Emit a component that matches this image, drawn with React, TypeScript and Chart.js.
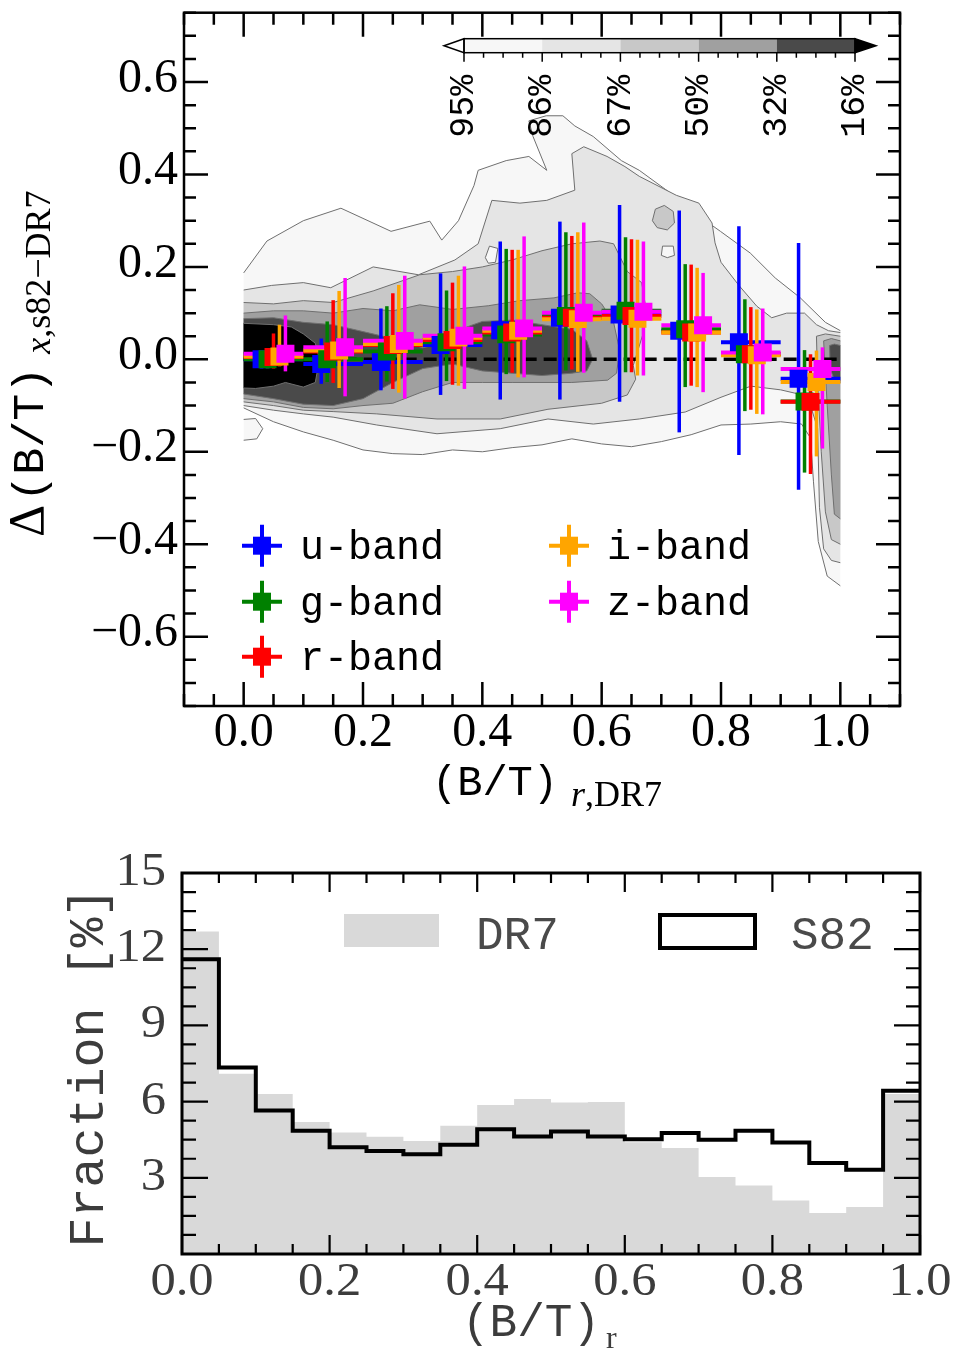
import React, { useEffect, useRef } from 'react';
import { Chart, registerables } from 'chart.js';

Chart.register(...registerables);

const SERIF = "'Liberation Serif', 'DejaVu Serif', serif";
const MONO = "'Liberation Mono', 'DejaVu Sans Mono', monospace";

// ================= TOP PANEL DATA =================
const binCenters = [0.05, 0.15, 0.25, 0.35, 0.45, 0.55, 0.65, 0.75, 0.85, 0.95];
const binHalfWidth = 0.05;
const bandLabels = ['u-band', 'g-band', 'r-band', 'i-band', 'z-band'];
const bandColors = ['#0000ff', '#008000', '#ff0000', '#ffa500', '#ff00ff'];
const bandOffsets = [-0.02, -0.01, 0.0, 0.01, 0.02];

const uMedian = [0.0, -0.01, -0.006, 0.031, 0.063, 0.09, 0.097, 0.062, 0.037, -0.042];
const uLow = [-0.02, -0.053, -0.067, -0.077, -0.087, -0.087, -0.092, -0.158, -0.207, -0.282];
const uHigh = [0.02, 0.045, 0.11, 0.186, 0.255, 0.298, 0.334, 0.322, 0.288, 0.252];

const gMedian = [0.0, 0.0, 0.017, 0.037, 0.054, 0.094, 0.105, 0.065, 0.011, -0.091];
const gLow = [-0.02, -0.049, -0.048, -0.047, -0.032, -0.024, -0.028, -0.06, -0.112, -0.245];
const gHigh = [0.02, 0.082, 0.115, 0.149, 0.239, 0.275, 0.264, 0.206, 0.13, 0.02];

const rMedian = [0.005, 0.017, 0.031, 0.042, 0.058, 0.09, 0.094, 0.058, 0.011, -0.092];
const rLow = [-0.02, -0.051, -0.064, -0.055, -0.029, -0.022, -0.028, -0.057, -0.109, -0.248];
const rHigh = [0.056, 0.128, 0.143, 0.166, 0.237, 0.267, 0.26, 0.205, 0.113, 0.011];

const iMedian = [0.006, 0.019, 0.033, 0.047, 0.062, 0.087, 0.088, 0.058, 0.009, -0.049];
const iLow = [-0.015, -0.062, -0.072, -0.057, -0.039, -0.027, -0.035, -0.06, -0.118, -0.21];
const iHigh = [0.075, 0.148, 0.161, 0.181, 0.237, 0.275, 0.259, 0.198, 0.108, 0.019];

const zMedian = [0.012, 0.026, 0.04, 0.051, 0.067, 0.101, 0.103, 0.074, 0.015, -0.021];
const zLow = [-0.026, -0.08, -0.085, -0.064, -0.039, -0.029, -0.035, -0.071, -0.119, -0.193];
const zHigh = [0.095, 0.176, 0.181, 0.201, 0.266, 0.296, 0.255, 0.187, 0.11, 0.026];

const bandMedians = [uMedian, gMedian, rMedian, iMedian, zMedian];
const bandLows = [uLow, gLow, rLow, iLow, zLow];
const bandHighs = [uHigh, gHigh, rHigh, iHigh, zHigh];

const zeroLineX = [0.0, 1.0];

// density contour levels (enclosed fraction) and fills
const contourLevels = ['95%', '86%', '67%', '50%', '32%', '16%'];
const contourColors = ['#f7f7f7', '#e5e5e5', '#c8c8c8', '#a0a0a0', '#4a4a4a', '#000000'];

const contour95 = [
  [0, 0.187], [0.039, 0.256], [0.1, 0.3], [0.163, 0.327], [0.2, 0.305], [0.247, 0.277], [0.312, 0.299],
  [0.332, 0.258], [0.36, 0.3], [0.386, 0.376], [0.393, 0.409], [0.44, 0.43], [0.478, 0.439], [0.508, 0.409],
  [0.485, 0.482], [0.478, 0.516], [0.507, 0.527], [0.535, 0.527], [0.555, 0.505], [0.586, 0.482],
  [0.633, 0.43], [0.663, 0.409], [0.732, 0.344], [0.763, 0.31], [0.799, 0.277], [0.849, 0.23],
  [0.891, 0.176], [0.933, 0.133], [0.975, 0.08], [1.0, 0.062],
  [1.0, -0.49], [0.978, -0.469], [0.963, -0.394], [0.955, -0.265], [0.95, -0.17], [0.935, -0.14],
  [0.9, -0.135], [0.85, -0.14], [0.8, -0.142], [0.75, -0.163], [0.7, -0.178], [0.65, -0.189], [0.6, -0.183],
  [0.55, -0.172], [0.5, -0.185], [0.45, -0.191], [0.4, -0.2], [0.35, -0.196], [0.3, -0.206], [0.25, -0.204],
  [0.2, -0.196], [0.15, -0.175], [0.1, -0.157], [0.05, -0.135], [0.0, -0.105],
];
const island95 = [[0, -0.13], [0.02, -0.128], [0.032, -0.15], [0.022, -0.172], [0, -0.175]];
const contour86 = [
  [0, 0.15], [0.047, 0.16], [0.1, 0.166], [0.146, 0.155], [0.217, 0.2], [0.293, 0.183], [0.354, 0.215],
  [0.393, 0.25], [0.416, 0.344], [0.463, 0.338], [0.508, 0.344], [0.555, 0.366], [0.55, 0.445], [0.57, 0.46],
  [0.609, 0.439], [0.639, 0.417], [0.663, 0.396], [0.725, 0.355], [0.763, 0.338], [0.785, 0.295], [0.79, 0.252],
  [0.8, 0.21], [0.83, 0.16], [0.86, 0.115], [0.885, 0.09], [0.91, 0.1], [0.94, 0.1], [0.96, 0.075],
  [0.98, 0.062], [1.0, 0.058],
  [1.0, -0.44], [0.985, -0.435], [0.972, -0.41], [0.965, -0.32], [0.962, -0.15], [0.95, -0.1], [0.93, -0.075],
  [0.9, -0.066], [0.85, -0.058], [0.8, -0.082], [0.74, -0.114], [0.663, -0.129], [0.586, -0.14], [0.51, -0.129],
  [0.43, -0.15], [0.324, -0.161], [0.223, -0.142], [0.15, -0.125], [0.1, -0.118], [0.05, -0.11], [0, -0.1],
];
const hole86a = [[0.405, 0.22], [0.412, 0.245], [0.426, 0.24], [0.422, 0.21], [0.41, 0.208]];
const hole86b = [[0.7, 0.225], [0.702, 0.245], [0.72, 0.245], [0.722, 0.225], [0.71, 0.22]];
const contour67 = [
  [0, 0.123], [0.05, 0.12], [0.1, 0.127], [0.15, 0.123], [0.217, 0.148], [0.295, 0.183], [0.35, 0.19],
  [0.4, 0.2], [0.45, 0.215], [0.5, 0.235], [0.55, 0.25], [0.597, 0.256], [0.62, 0.25], [0.643, 0.19],
  [0.667, 0.166], [0.673, 0.12], [0.67, 0.058], [0.653, -0.013], [0.657, -0.043], [0.643, -0.077],
  [0.6, -0.095], [0.51, -0.108], [0.43, -0.129], [0.324, -0.129], [0.223, -0.118], [0.15, -0.113],
  [0.1, -0.11], [0.05, -0.1], [0, -0.092],
];
const island67 = [[0.685, 0.3], [0.69, 0.325], [0.705, 0.333], [0.72, 0.32], [0.722, 0.295], [0.71, 0.28], [0.693, 0.285]];
const edge67 = [[0.96, 0.05], [0.975, 0.055], [1.0, 0.05], [1.0, -0.4], [0.985, -0.39], [0.975, -0.33], [0.968, -0.2], [0.962, -0.05]];
const contour50 = [
  [0, 0.1], [0.05, 0.105], [0.1, 0.105], [0.15, 0.1], [0.2, 0.11], [0.25, 0.105], [0.295, 0.118], [0.35, 0.108],
  [0.41, 0.116], [0.463, 0.127], [0.52, 0.133], [0.56, 0.144], [0.58, 0.142], [0.6, 0.12], [0.62, 0.08],
  [0.63, 0.02], [0.625, -0.03],
  [0.61, -0.045], [0.55, -0.05], [0.5, -0.05], [0.45, -0.05], [0.4, -0.05], [0.35, -0.05], [0.3, -0.07],
  [0.25, -0.095], [0.2, -0.1], [0.15, -0.107], [0.1, -0.104], [0.05, -0.092], [0, -0.085],
];
const edge50 = [[0.972, 0.04], [0.985, 0.045], [1.0, 0.04], [1.0, -0.345], [0.99, -0.335], [0.985, -0.25], [0.978, -0.1]];
const contour32 = [
  [0, 0.088], [0.05, 0.09], [0.1, 0.08], [0.15, 0.075], [0.2, 0.06], [0.25, 0.045], [0.3, 0.025], [0.35, 0.04],
  [0.374, 0.07], [0.4, 0.082], [0.45, 0.085], [0.5, 0.075], [0.55, 0.065], [0.575, 0.04], [0.585, 0.0],
  [0.575, -0.025], [0.55, -0.03], [0.5, -0.035], [0.45, -0.03], [0.4, -0.025], [0.35, -0.01], [0.3, -0.02],
  [0.25, -0.05], [0.2, -0.085], [0.15, -0.1], [0.1, -0.097], [0.05, -0.085], [0, -0.075],
];
const edge32 = [[0.982, 0.03], [0.99, 0.033], [1.0, 0.03], [1.0, -0.05], [0.99, -0.045], [0.983, -0.02]];
const contour16 = [
  [0, 0.078], [0.05, 0.075], [0.08, 0.07], [0.1, 0.055], [0.12, 0.035], [0.127, 0.0], [0.12, -0.05],
  [0.1, -0.06], [0.07, -0.05], [0.05, -0.058], [0.02, -0.063], [0, -0.062],
];

// drawing order of contour patches: [points, level index]
const contourPatches: [number[][], number][] = [
  [contour95, 0], [island95, 0], [contour86, 1], [hole86a, 0], [hole86b, 0], [contour67, 2], [island67, 2],
  [edge67, 2], [contour50, 3], [edge50, 3], [contour32, 4], [edge32, 4], [contour16, 5],
];

const topXMajor = [0, 0.2, 0.4, 0.6, 0.8, 1.0];
const topXLabels = ['0.0', '0.2', '0.4', '0.6', '0.8', '1.0'];
const topYMajor = [-0.6, -0.4, -0.2, 0, 0.2, 0.4, 0.6];
const topYLabels = ['\u22120.6', '\u22120.4', '\u22120.2', '0.0', '0.2', '0.4', '0.6'];

// ================= BOTTOM PANEL DATA =================
const histEdges = [0, 0.05, 0.1, 0.15, 0.2, 0.25, 0.3, 0.35, 0.4, 0.45, 0.5, 0.55, 0.6, 0.65, 0.7, 0.75, 0.8, 0.85, 0.9, 0.95, 1.0];
const dr7Fraction = [12.7, 7.1, 6.3, 5.2, 4.78, 4.62, 4.45, 5.05, 5.87, 6.1, 5.96, 5.98, 4.4, 4.17, 3.03, 2.7, 2.11, 1.61, 1.85, 6.3];
const s82Fraction = [11.6, 7.34, 5.65, 4.85, 4.2, 4.06, 3.93, 4.3, 4.91, 4.63, 4.82, 4.63, 4.52, 4.76, 4.5, 4.85, 4.39, 3.58, 3.32, 6.43];
const botXMajor = [0, 0.2, 0.4, 0.6, 0.8, 1.0];
const botXLabels = ['0.0', '0.2', '0.4', '0.6', '0.8', '1.0'];
const botYMajor = [3, 6, 9, 12, 15];
const botYLabels = ['3', '6', '9', '12', '15'];

// ================= helpers =================
function drawRuns(ctx: any, runs: any[], x: number, y: number, rot: number, color: string) {
  ctx.save();
  ctx.translate(x, y);
  if (rot) ctx.rotate(rot);
  ctx.fillStyle = color;
  ctx.textBaseline = 'alphabetic';
  ctx.textAlign = 'left';
  let cx = 0;
  for (const r of runs) {
    ctx.font = r.font;
    ctx.fillText(r.text, cx, r.dy || 0);
    cx += ctx.measureText(r.text).width + (r.gap || 0);
  }
  ctx.restore();
}

function txt(ctx: any, s: string, x: number, y: number, font: string, o: any = {}) {
  ctx.save();
  ctx.translate(x, y);
  if (o.rot) ctx.rotate(o.rot);
  if (o.sx || o.sy) ctx.scale(o.sx || 1, o.sy || 1);
  ctx.font = font;
  ctx.fillStyle = o.color || '#000';
  ctx.textAlign = o.align || 'left';
  ctx.textBaseline = o.baseline || 'alphabetic';
  ctx.fillText(s, 0, 0);
  ctx.restore();
}

function drawBox(chart: any, xMaj: number[], xMin: number[], yMaj: number[], yMin: number[], L: any, lw: number, frameLw: number) {
  const { ctx, chartArea: a, scales } = chart;
  ctx.save();
  ctx.strokeStyle = '#000';
  ctx.lineWidth = lw;
  ctx.lineCap = 'butt';
  ctx.beginPath();
  const xt = (vals: number[], len: number) => {
    for (const v of vals) {
      const p = scales.x.getPixelForValue(v);
      ctx.moveTo(p, a.bottom); ctx.lineTo(p, a.bottom - len);
      ctx.moveTo(p, a.top); ctx.lineTo(p, a.top + len);
    }
  };
  const yt = (vals: number[], len: number) => {
    for (const v of vals) {
      const p = scales.y.getPixelForValue(v);
      ctx.moveTo(a.left, p); ctx.lineTo(a.left + len, p);
      ctx.moveTo(a.right, p); ctx.lineTo(a.right - len, p);
    }
  };
  xt(xMaj, L.xMaj); xt(xMin, L.xMin); yt(yMaj, L.yMaj); yt(yMin, L.yMin);
  ctx.stroke();
  ctx.lineWidth = frameLw;
  ctx.strokeRect(a.left, a.top, a.right - a.left, a.bottom - a.top);
  ctx.restore();
}

function drawErrorBars(chart: any) {
  const { ctx, scales } = chart;
  const X = scales.x, Y = scales.y;
  ctx.save();
  ctx.lineCap = 'butt';
  for (let b = 0; b < bandLabels.length; b++) {
    ctx.strokeStyle = bandColors[b];
    for (let i = 0; i < binCenters.length; i++) {
      const px = X.getPixelForValue(binCenters[i] + bandOffsets[b]);
      const py = Y.getPixelForValue(bandMedians[b][i]);
      ctx.lineWidth = 4;
      ctx.beginPath();
      ctx.moveTo(X.getPixelForValue(binCenters[i] - binHalfWidth), py);
      ctx.lineTo(X.getPixelForValue(binCenters[i] + binHalfWidth), py);
      ctx.stroke();
      ctx.lineWidth = 3.5;
      ctx.beginPath();
      ctx.moveTo(px, Y.getPixelForValue(bandLows[b][i]));
      ctx.lineTo(px, Y.getPixelForValue(bandHighs[b][i]));
      ctx.stroke();
    }
  }
  ctx.restore();
}

function drawColorbar(chart: any) {
  const { ctx, chartArea: a } = chart;
  const x0 = a.left + 280, x1 = a.left + 671;
  const yT = a.top + 26, yB = a.top + 40, yM = (yT + yB) / 2;
  const n = contourLevels.length - 1;
  const w = (x1 - x0) / n;
  ctx.save();
  for (let i = 0; i < n; i++) {
    ctx.fillStyle = contourColors[i];
    ctx.fillRect(x0 + i * w, yT, w, yB - yT);
  }
  ctx.lineWidth = 1.5;
  ctx.strokeStyle = '#000';
  ctx.beginPath(); ctx.moveTo(x0, yT); ctx.lineTo(x0 - 20, yM); ctx.lineTo(x0, yB); ctx.closePath();
  ctx.fillStyle = '#fff'; ctx.fill(); ctx.stroke();
  ctx.beginPath(); ctx.moveTo(x1, yT); ctx.lineTo(x1 + 21, yM); ctx.lineTo(x1, yB); ctx.closePath();
  ctx.fillStyle = contourColors[5]; ctx.fill(); ctx.stroke();
  ctx.strokeRect(x0, yT, x1 - x0, yB - yT);
  ctx.beginPath();
  for (let i = 0; i <= n * 4; i++) {
    const px = x0 + (i * w) / 4;
    ctx.moveTo(px, yB); ctx.lineTo(px, yB + (i % 4 === 0 ? 9 : 5));
  }
  ctx.lineWidth = 1.5;
  ctx.stroke();
  ctx.restore();
  for (let i = 0; i <= n; i++) {
    txt(ctx, contourLevels[i], x0 + i * w, yB + 22, `35px ${MONO}`, { rot: -Math.PI / 2, align: 'right', baseline: 'middle' });
  }
}

function drawTopLegend(chart: any) {
  const { ctx, chartArea: a } = chart;
  const cols = [a.left + 78, a.left + 385];
  const rows = [a.top + 533, a.top + 589, a.top + 644];
  const pos = [[0, 0], [0, 1], [0, 2], [1, 0], [1, 1]];
  ctx.save();
  ctx.lineCap = 'butt';
  for (let b = 0; b < bandLabels.length; b++) {
    const cx = cols[pos[b][0]], cy = rows[pos[b][1]];
    ctx.strokeStyle = bandColors[b];
    ctx.fillStyle = bandColors[b];
    ctx.lineWidth = 4;
    ctx.beginPath();
    ctx.moveTo(cx - 20, cy); ctx.lineTo(cx + 20, cy);
    ctx.moveTo(cx, cy - 21); ctx.lineTo(cx, cy + 21);
    ctx.stroke();
    ctx.fillRect(cx - 9, cy - 9, 18, 18);
    txt(ctx, bandLabels[b], cx + 38, cy + 13, `40px ${MONO}`);
  }
  ctx.restore();
}

// split a closed patch outline into open pieces, skipping edges lying on x=0 or x=1
function outlinePieces(pts: number[][]) {
  const isEdge = (p: number[], q: number[]) => p[0] === q[0] && (p[0] <= 0.0001 || p[0] >= 0.9999);
  const seq = pts.slice();
  if (!isEdge(pts[pts.length - 1], pts[0])) seq.push(pts[0]);
  const pieces: number[][][] = [];
  let cur: number[][] = [seq[0]];
  for (let i = 1; i < seq.length; i++) {
    if (isEdge(seq[i - 1], seq[i])) {
      if (cur.length > 1) pieces.push(cur);
      cur = [seq[i]];
    } else cur.push(seq[i]);
  }
  if (cur.length > 1) pieces.push(cur);
  return pieces;
}

function buildTopConfig(): any {
  const datasets: any[] = [];
  contourPatches.forEach(([pts, lvl], idx) => {
    datasets.push({
      type: 'line',
      label: 'contour ' + contourLevels[lvl],
      data: pts.map(([x, y]) => ({ x, y })),
      backgroundColor: contourColors[lvl],
      borderWidth: 0,
      borderColor: 'rgba(0,0,0,0)',
      pointRadius: 0,
      fill: 'shape',
      tension: 0,
      order: 300 - 2 * idx,
    });
    outlinePieces(pts).forEach((piece) => {
      datasets.push({
        type: 'line',
        label: 'contour line ' + contourLevels[lvl],
        data: piece.map(([x, y]) => ({ x, y })),
        borderColor: '#6f6f6f',
        borderWidth: 1,
        pointRadius: 0,
        fill: false,
        tension: 0,
        order: 299 - 2 * idx,
      });
    });
  });
  datasets.push({
    type: 'line',
    label: 'zero',
    role: 'zero',
    data: zeroLineX.map((x) => ({ x, y: 0 })),
    borderColor: '#000',
    borderWidth: 3.5,
    borderDash: [13, 7],
    pointRadius: 0,
    fill: false,
    order: 10,
  });
  bandLabels.forEach((lab, b) => {
    datasets.push({
      type: 'line',
      label: lab,
      data: binCenters.map((c, i) => ({ x: c + bandOffsets[b], y: bandMedians[b][i] })),
      showLine: false,
      pointStyle: 'rect',
      pointRadius: 12.7,
      pointBackgroundColor: bandColors[b],
      pointBorderWidth: 0,
      pointBorderColor: bandColors[b],
      order: 5 - b,
    });
  });

  const xMin: number[] = [];
  for (let k = -2; k <= 22; k++) if (k % 4 !== 0) xMin.push(k * 0.05);
  const yMin: number[] = [];
  for (let k = -15; k <= 15; k++) if (k % 4 !== 0) yMin.push(k * 0.05);

  const plugin = {
    id: 'topDecor',
    afterDatasetDraw(chart: any, args: any) {
      const ds = chart.data.datasets[args.index];
      if (ds && ds.role === 'zero') drawErrorBars(chart);
    },
    afterDraw(chart: any) {
      const { ctx, chartArea: a, scales } = chart;
      drawBox(chart, topXMajor, xMin, topYMajor, yMin, { xMaj: 24, xMin: 12, yMaj: 24, yMin: 12 }, 2.5, 2.5);
      topXMajor.forEach((v, i) => txt(ctx, topXLabels[i], scales.x.getPixelForValue(v), a.bottom + 27, `48px ${SERIF}`, { align: 'center', baseline: 'middle' }));
      topYMajor.forEach((v, i) => txt(ctx, topYLabels[i], a.left - 6, scales.y.getPixelForValue(v) - 3, `48px ${SERIF}`, { align: 'right', baseline: 'middle' }));
      drawColorbar(chart);
      drawTopLegend(chart);
      drawRuns(ctx, [
        { text: '(B/T)', font: `42px ${MONO}`, gap: 13 },
        { text: 'r', font: `italic 36px ${SERIF}`, dy: 11 },
        { text: ',DR7', font: `36px ${SERIF}`, dy: 11 },
      ], a.left + 248, a.bottom + 89, 0, '#000');
      drawRuns(ctx, [
        { text: '\u0394', font: `50px ${SERIF}`, gap: 3 },
        { text: '(B/T)', font: `45px ${MONO}`, gap: 13 },
        { text: 'x', font: `italic 36px ${SERIF}`, dy: 7 },
        { text: ',s82\u2212DR7', font: `36px ${SERIF}`, dy: 7 },
      ], 43, 537, -Math.PI / 2, '#000');
    },
  };

  return {
    type: 'line',
    data: { datasets },
    options: {
      responsive: false,
      animation: false,
      events: [],
      layout: { padding: { left: 184, right: 54, top: 8, bottom: 114 } },
      scales: {
        x: { type: 'linear', min: -0.1, max: 1.1, display: false },
        y: { type: 'linear', min: -0.75, max: 0.75, display: false },
      },
      plugins: { legend: { display: false }, tooltip: { enabled: false } },
    },
    plugins: [plugin],
  };
}

function stepData(vals: number[]) {
  const pts = vals.map((v, i) => ({ x: histEdges[i], y: v }));
  pts.push({ x: histEdges[histEdges.length - 1], y: vals[vals.length - 1] });
  return pts;
}

function buildBottomConfig(): any {
  const xMin: number[] = [];
  for (let k = 1; k < 20; k++) if (k % 4 !== 0) xMin.push(k * 0.05);
  const yMin: number[] = [];
  for (let k = 1; k < 20; k++) if (k % 4 !== 0) yMin.push(k * 0.75);
  const grey = '#3c3c3c';

  const plugin = {
    id: 'botDecor',
    afterDraw(chart: any) {
      const { ctx, chartArea: a, scales } = chart;
      drawBox(chart, botXMajor, xMin, botYMajor, yMin, { xMaj: 19, xMin: 10, yMaj: 26, yMin: 14 }, 2.2, 3);
      botXMajor.forEach((v, i) => txt(ctx, botXLabels[i], scales.x.getPixelForValue(v), a.bottom + 29, `46px ${SERIF}`, { align: 'center', baseline: 'middle', sx: 1.1, color: grey }));
      botYMajor.forEach((v, i) => txt(ctx, botYLabels[i], a.left - 16, scales.y.getPixelForValue(v), `46px ${SERIF}`, { align: 'right', baseline: 'middle', sx: 1.1, color: grey }));
      ctx.save();
      ctx.fillStyle = '#d9d9d9';
      ctx.fillRect(a.left + 162, a.top + 41, 95, 33);
      ctx.strokeStyle = '#000';
      ctx.lineWidth = 4;
      ctx.strokeRect(a.left + 478, a.top + 42, 95, 33);
      ctx.restore();
      txt(ctx, 'DR7', a.left + 294, a.top + 76, `46px ${MONO}`, { color: '#4a4a4a' });
      txt(ctx, 'S82', a.left + 609, a.top + 76, `46px ${MONO}`, { color: '#4a4a4a' });
      drawRuns(ctx, [
        { text: '(B/T)', font: `46px ${MONO}`, gap: 6 },
        { text: 'r', font: `32px ${SERIF}`, dy: 12 },
      ], a.left + 280, a.bottom + 82, 0, grey);
      txt(ctx, 'Fraction [%]', 103, (a.top + a.bottom) / 2 + 4, `50px ${MONO}`, { rot: -Math.PI / 2, align: 'center', color: grey });
    },
  };

  return {
    type: 'line',
    data: {
      datasets: [
        {
          label: 'S82',
          data: stepData(s82Fraction),
          stepped: 'before',
          borderColor: '#000',
          borderWidth: 4,
          pointRadius: 0,
          fill: false,
          order: 1,
        },
        {
          label: 'DR7',
          data: stepData(dr7Fraction),
          stepped: 'before',
          borderWidth: 0,
          borderColor: 'rgba(0,0,0,0)',
          backgroundColor: '#d9d9d9',
          pointRadius: 0,
          fill: 'origin',
          order: 2,
        },
      ],
    },
    options: {
      responsive: false,
      animation: false,
      events: [],
      layout: { padding: { left: 182, right: 34, top: 53, bottom: 99 } },
      scales: {
        x: { type: 'linear', min: 0, max: 1, display: false },
        y: { type: 'linear', min: 0, max: 15, display: false },
      },
      plugins: { legend: { display: false }, tooltip: { enabled: false } },
    },
    plugins: [plugin],
  };
}

export default function App() {
  const topRef = useRef<HTMLCanvasElement>(null);
  const botRef = useRef<HTMLCanvasElement>(null);
  useEffect(() => {
    const top = new Chart(topRef.current as HTMLCanvasElement, buildTopConfig());
    const bot = new Chart(botRef.current as HTMLCanvasElement, buildBottomConfig());
    return () => {
      top.destroy();
      bot.destroy();
    };
  }, []);
  return (
    <div style={{ position: 'absolute', left: 0, top: 0, width: 954, height: 1353, background: '#fff', overflow: 'hidden' }}>
      <canvas ref={topRef} width={954} height={820} style={{ position: 'absolute', left: 0, top: 0, width: 954, height: 820 }} />
      <canvas ref={botRef} width={954} height={533} style={{ position: 'absolute', left: 0, top: 820, width: 954, height: 533 }} />
    </div>
  );
}
